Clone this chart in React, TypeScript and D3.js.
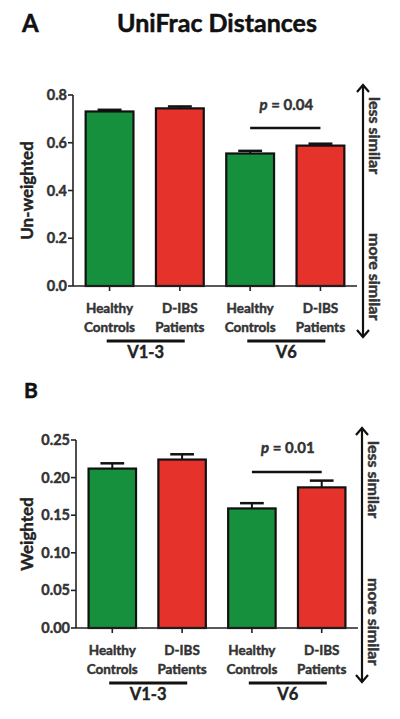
import React from "react";
import * as d3 from "d3";

const categories = ["HC_V13", "IBS_V13", "HC_V6", "IBS_V6"];
const categoryLabels = [
  ["Healthy", "Controls"],
  ["D-IBS", "Patients"],
  ["Healthy", "Controls"],
  ["D-IBS", "Patients"],
];
const groups = ["V1-3", "V6"];
const groupMembers = [[0, 1], [2, 3]];
const barColors = ["#17903e", "#e5322b", "#17903e", "#e5322b"];

const unweightedMeans = [0.731, 0.744, 0.555, 0.588];
const unweightedErr = [0.007, 0.008, 0.011, 0.008];
const unweightedTicks = [0, 0.2, 0.4, 0.6, 0.8];
const unweightedP = "0.04";

const weightedMeans = [0.212, 0.224, 0.159, 0.187];
const weightedErr = [0.007, 0.007, 0.007, 0.009];
const weightedTicks = [0, 0.05, 0.1, 0.15, 0.2, 0.25];
const weightedP = "0.01";

const FONT = "Lato, 'Open Sans', sans-serif";
const TEXT = "#333";
const heavy = { stroke: TEXT, strokeWidth: 0.45 } as const;

type PanelProps = {
  means: number[];
  errs: number[];
  ticks: number[];
  fmt: string;
  yLabel: string;
  pText: string;
  axisX: number;
  axisEnd: number;
  y0: number;
  yTop: number;
  pLineY: number;
  pTextY: number;
  arrowTop: number;
  arrowBottom: number;
  arrowX: number;
  lessY: number;
  moreY: number;
  yLabelX: number;
};

function Panel(p: PanelProps) {
  const max = p.ticks[p.ticks.length - 1];
  const y = d3.scaleLinear().domain([0, max]).range([p.y0, p.yTop]);
  const x = d3
    .scaleBand<string>()
    .domain(categories)
    .range([p.axisX, p.axisEnd])
    .paddingInner(0.32)
    .paddingOuter(0.18);
  const bw = x.bandwidth();
  const f = d3.format(p.fmt);
  const cx = (i: number) => (x(categories[i]) as number) + bw / 2;
  const capW = bw * 0.5;
  return (
    <g>
      {p.means.map((m, i) => (
        <g key={i}>
          <line x1={cx(i)} x2={cx(i)} y1={y(m)} y2={y(m + p.errs[i])} stroke="#111" strokeWidth={2} />
          <line
            x1={cx(i) - capW / 2}
            x2={cx(i) + capW / 2}
            y1={y(m + p.errs[i])}
            y2={y(m + p.errs[i])}
            stroke="#111"
            strokeWidth={2.5}
          />
          <rect
            x={x(categories[i])}
            y={y(m)}
            width={bw}
            height={p.y0 - y(m)}
            fill={barColors[i]}
            stroke="#111"
            strokeWidth={2.2}
          />
        </g>
      ))}
      <line x1={p.axisX} x2={p.axisX} y1={p.y0} y2={p.yTop} stroke="#222" strokeWidth={1.6} />
      {p.ticks.map((t, i) => (
        <g key={i}>
          <line x1={p.axisX - 5} x2={p.axisX} y1={y(t)} y2={y(t)} stroke="#222" strokeWidth={1.6} />
          <text
            x={p.axisX - 6}
            y={y(t) + 5}
            textAnchor="end"
            fontFamily={FONT}
            fontWeight="bold"
            fontSize={14.5}
            fill={TEXT}
            {...heavy}
          >
            {f(t)}
          </text>
        </g>
      ))}
      <text
        transform={`translate(${p.yLabelX},${(p.y0 + p.yTop) / 2}) rotate(-90)`}
        textAnchor="middle"
        fontFamily={FONT}
        fontWeight="bold"
        fontSize={17}
        fill="#222"
        stroke="#222"
        strokeWidth={0.4}
      >
        {p.yLabel}
      </text>
      <line x1={p.axisX} x2={p.axisEnd} y1={p.y0} y2={p.y0} stroke="#222" strokeWidth={1.6} />
      {categories.map((c, i) => (
        <g key={c}>
          <line x1={cx(i)} x2={cx(i)} y1={p.y0} y2={p.y0 + 5} stroke="#222" strokeWidth={1.6} />
          {categoryLabels[i].map((s, j) => (
            <text
              key={j}
              x={cx(i)}
              y={p.y0 + 27 + j * 18.5}
              textAnchor="middle"
              fontFamily={FONT}
              fontWeight="bold"
              fontSize={13.5}
              fill={TEXT}
              {...heavy}
            >
              {s}
            </text>
          ))}
        </g>
      ))}
      {groups.map((g, k) => {
        const a = cx(groupMembers[k][0]);
        const b = cx(groupMembers[k][1]);
        const mid = (a + b) / 2 + 1;
        return (
          <g key={g}>
            <line x1={mid - 39} x2={mid + 39} y1={p.y0 + 55} y2={p.y0 + 55} stroke="#111" strokeWidth={3} />
            <text
              x={mid}
              y={p.y0 + 72}
              textAnchor="middle"
              fontFamily={FONT}
              fontWeight="bold"
              fontSize={16.5}
              fill="#222"
              stroke="#222"
              strokeWidth={0.4}
            >
              {g}
            </text>
          </g>
        );
      })}
      <line x1={cx(2)} x2={cx(3)} y1={p.pLineY} y2={p.pLineY} stroke="#111" strokeWidth={2.5} />
      <text
        x={(cx(2) + cx(3)) / 2 + 1}
        y={p.pTextY}
        textAnchor="middle"
        fontFamily={FONT}
        fontWeight="bold"
        fontSize={15}
        fill={TEXT}
        {...heavy}
      >
        <tspan fontStyle="italic">p</tspan>
        {" = " + p.pText}
      </text>
      <line x1={p.arrowX} x2={p.arrowX} y1={p.arrowTop + 1} y2={p.arrowBottom - 1} stroke="#111" strokeWidth={2.2} />
      <path
        d={`M${p.arrowX - 6},${p.arrowTop + 8} L${p.arrowX},${p.arrowTop + 1} L${p.arrowX + 6},${p.arrowTop + 8}`}
        fill="none"
        stroke="#111"
        strokeWidth={2.2}
      />
      <path
        d={`M${p.arrowX - 6},${p.arrowBottom - 8} L${p.arrowX},${p.arrowBottom - 1} L${p.arrowX + 6},${p.arrowBottom - 8}`}
        fill="none"
        stroke="#111"
        strokeWidth={2.2}
      />
      <text
        transform={`translate(${p.arrowX + 6},${p.lessY}) rotate(90)`}
        fontFamily={FONT}
        fontWeight="bold"
        fontSize={16}
        fill={TEXT}
        {...heavy}
      >
        less similar
      </text>
      <text
        transform={`translate(${p.arrowX + 6},${p.moreY}) rotate(90)`}
        fontFamily={FONT}
        fontWeight="bold"
        fontSize={16}
        fill={TEXT}
        {...heavy}
      >
        more similar
      </text>
    </g>
  );
}

export default function App() {
  return (
    <svg width={400} height={719} style={{ position: "absolute", left: 0, top: 0, background: "#fff" }}>
      <rect width={400} height={719} fill="#fff" />
      <text x={22} y={32} fontFamily={FONT} fontWeight="bold" fontSize={24} fill="#111" stroke="#111" strokeWidth={0.5}>
        A
      </text>
      <text
        x={217}
        y={32}
        textAnchor="middle"
        fontFamily={FONT}
        fontWeight="bold"
        fontSize={25}
        fill="#111"
        stroke="#111"
        strokeWidth={0.5}
      >
        UniFrac Distances
      </text>
      <text x={24} y={398} fontFamily={FONT} fontWeight="bold" fontSize={21} fill="#111" stroke="#111" strokeWidth={0.5}>
        B
      </text>
      <Panel
        means={unweightedMeans}
        errs={unweightedErr}
        ticks={unweightedTicks}
        fmt=".1f"
        yLabel="Un-weighted"
        pText={unweightedP}
        axisX={73}
        axisEnd={357}
        y0={286}
        yTop={95}
        pLineY={128}
        pTextY={110}
        arrowTop={84}
        arrowBottom={338}
        arrowX={363}
        lessY={97}
        moreY={233}
        yLabelX={33}
      />
      <Panel
        means={weightedMeans}
        errs={weightedErr}
        ticks={weightedTicks}
        fmt=".2f"
        yLabel="Weighted"
        pText={weightedP}
        axisX={76}
        axisEnd={358}
        y0={628}
        yTop={440}
        pLineY={472}
        pTextY={453}
        arrowTop={427}
        arrowBottom={683}
        arrowX={362}
        lessY={441}
        moreY={578}
        yLabelX={33}
      />
    </svg>
  );
}
